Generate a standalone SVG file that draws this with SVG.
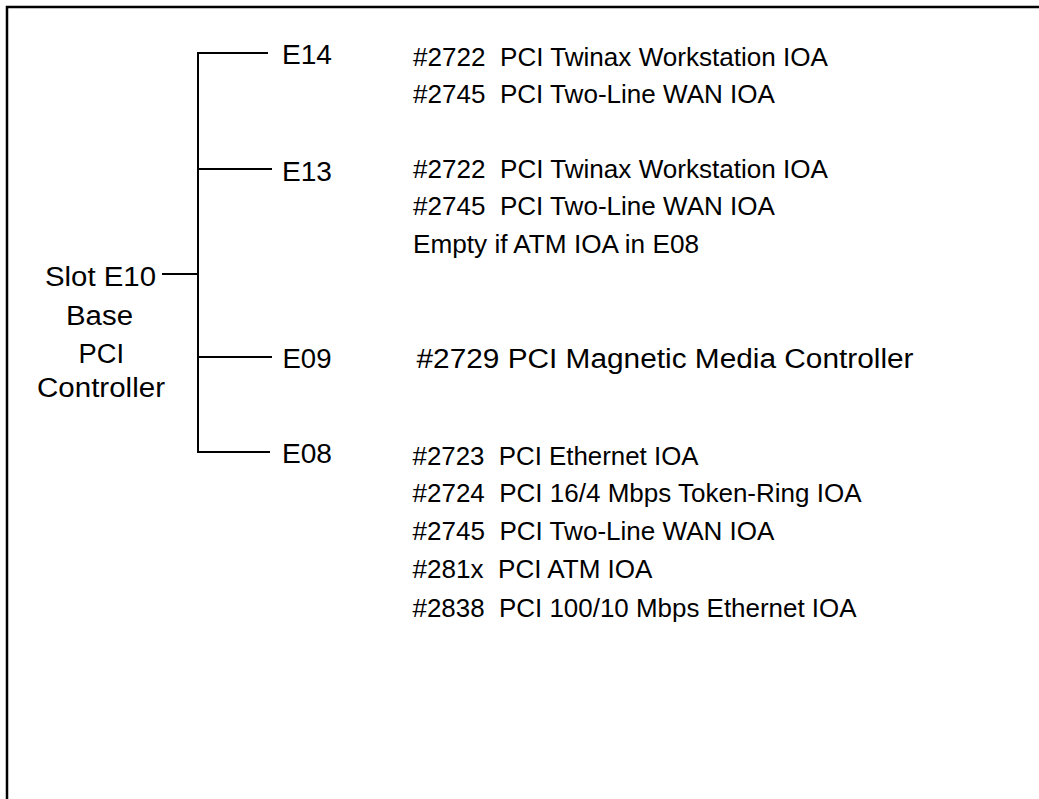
<svg xmlns="http://www.w3.org/2000/svg" width="1039" height="799" viewBox="0 0 1039 799">
<style>
text{font-family:"Liberation Sans",Arial,sans-serif;font-size:25px;fill:#000;white-space:pre}
.l{font-size:27px}
.c{text-anchor:middle}
line,polyline{stroke:#000;stroke-width:2;fill:none}
</style>
<rect width="1039" height="799" fill="#fff"/>
<g id="frame"><polyline points="7,799 7,7 1039,7" style="stroke-width:2.5"/></g>
<g id="connectors">
<line x1="198" y1="53" x2="198" y2="452"/>
<line x1="197" y1="53" x2="268" y2="53"/>
<line x1="198" y1="169" x2="272" y2="169"/>
<line x1="162" y1="274" x2="198" y2="274"/>
<line x1="198" y1="357" x2="272" y2="357"/>
<line x1="197" y1="452" x2="270" y2="452"/>
</g>
<g id="controller">
<text class="l" x="45" y="286" textLength="111" lengthAdjust="spacingAndGlyphs">Slot E10</text>
<text class="l" x="66" y="325" textLength="67" lengthAdjust="spacingAndGlyphs">Base</text>
<text class="l" x="78.5" y="363" textLength="45.5" lengthAdjust="spacingAndGlyphs">PCI</text>
<text class="l" x="37" y="397" textLength="128" lengthAdjust="spacingAndGlyphs">Controller</text>
</g>
<g id="E14">
<text class="l" x="282" y="64" textLength="50" lengthAdjust="spacingAndGlyphs">E14</text>
<text x="413" y="66" textLength="415" lengthAdjust="spacingAndGlyphs">#2722  PCI Twinax Workstation IOA</text>
<text x="413" y="103" textLength="362" lengthAdjust="spacingAndGlyphs">#2745  PCI Two-Line WAN IOA</text>
</g>
<g id="E13">
<text class="l" x="282" y="181" textLength="50" lengthAdjust="spacingAndGlyphs">E13</text>
<text x="413" y="178" textLength="415" lengthAdjust="spacingAndGlyphs">#2722  PCI Twinax Workstation IOA</text>
<text x="413" y="215" textLength="362" lengthAdjust="spacingAndGlyphs">#2745  PCI Two-Line WAN IOA</text>
<text x="413" y="253" textLength="286" lengthAdjust="spacingAndGlyphs">Empty if ATM IOA in E08</text>
</g>
<g id="E09">
<text class="l" x="282.5" y="368" textLength="49" lengthAdjust="spacingAndGlyphs">E09</text>
<text class="l" x="416.5" y="368" textLength="497" lengthAdjust="spacingAndGlyphs">#2729 PCI Magnetic Media Controller</text>
</g>
<g id="E08">
<text class="l" x="282" y="463" textLength="50" lengthAdjust="spacingAndGlyphs">E08</text>
<text x="412.5" y="465" textLength="286" lengthAdjust="spacingAndGlyphs">#2723  PCI Ethernet IOA</text>
<text x="412.5" y="502" textLength="449" lengthAdjust="spacingAndGlyphs">#2724  PCI 16/4 Mbps Token-Ring IOA</text>
<text x="412.5" y="540" textLength="362" lengthAdjust="spacingAndGlyphs">#2745  PCI Two-Line WAN IOA</text>
<text x="412.5" y="578" textLength="240" lengthAdjust="spacingAndGlyphs">#281x  PCI ATM IOA</text>
<text x="412.5" y="617" textLength="444" lengthAdjust="spacingAndGlyphs">#2838  PCI 100/10 Mbps Ethernet IOA</text>
</g>
</svg>
